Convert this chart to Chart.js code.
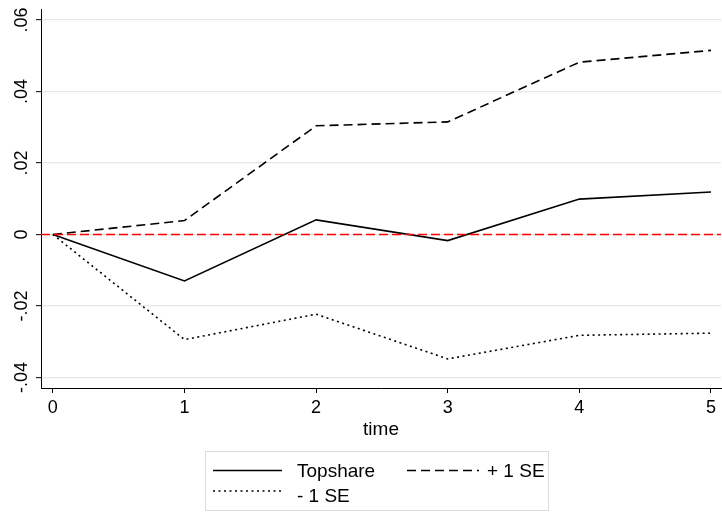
<!DOCTYPE html>
<html>
<head>
<meta charset="utf-8">
<script src="https://cdn.jsdelivr.net/npm/chart.js@4.4.1/dist/chart.umd.min.js"></script>
<style>
  html, body { margin: 0; padding: 0; background: #fff; }
  #wrap { width: 722px; height: 513px; }
</style>
</head>
<body>
<div id="wrap"><canvas id="chart" width="722" height="513"></canvas></div>
<script>
// values
const time = [0, 1, 2, 3, 4, 5];
const topshare = [0, -0.0130, 0.0041, -0.0017, 0.0099, 0.0119];
const plusSE = [0, 0.0039, 0.0304, 0.0315, 0.0482, 0.0515];
const minusSE = [0, -0.0294, -0.0223, -0.0348, -0.0282, -0.0276];
const xTicks = [0, 1, 2, 3, 4, 5];
const yTicks = [-0.04, -0.02, 0, 0.02, 0.04, 0.06];
const yTickLabels = ['-.04', '-.02', '0', '.02', '.04', '.06'];
const xRange = [-0.09, 5.076];
const yRange = [-0.04294, 0.06308];
const zeroLine = [0, 0];

const FONT = '"Liberation Sans", Arial, sans-serif';

const toPoints = (xs, ys) => xs.map((x, i) => ({ x, y: ys[i] }));

const legendItems = [
  { label: 'Topshare', dash: [], col: 0, row: 0 },
  { label: '+ 1 SE', dash: [9, 5], col: 1, row: 0 },
  { label: '- 1 SE', dash: [2, 3.5], col: 0, row: 1 }
];

const stataDecor = {
  id: 'stataDecor',
  afterDraw(chart) {
    const ctx = chart.ctx;
    const yScale = chart.scales.y;
    const area = chart.chartArea;

    // rotated y tick labels
    ctx.save();
    ctx.fillStyle = '#000';
    ctx.font = '18px ' + FONT;
    ctx.textAlign = 'center';
    ctx.textBaseline = 'alphabetic';
    yTicks.forEach((v, i) => {
      const py = yScale.getPixelForValue(v);
      ctx.save();
      ctx.translate(27, py);
      ctx.rotate(-Math.PI / 2);
      ctx.fillText(yTickLabels[i], 0, 0);
      ctx.restore();
    });

    // x axis title
    ctx.font = '19px ' + FONT;
    ctx.fillText('time', (area.left + area.right) / 2, 435);

    // legend box
    ctx.strokeStyle = '#dcdcdc';
    ctx.lineWidth = 1;
    ctx.strokeRect(205.5, 451.5, 343, 59);

    ctx.textAlign = 'left';
    const colX = [[213, 282, 297], [407, 479, 487]];
    const lineY = [470.5, 491];
    const textY = [476.7, 501.5];
    legendItems.forEach(item => {
      const [x1, x2, tx] = colX[item.col];
      ctx.strokeStyle = '#000';
      ctx.lineWidth = 1.6;
      ctx.setLineDash(item.dash);
      ctx.beginPath();
      ctx.moveTo(x1, lineY[item.row]);
      ctx.lineTo(x2, lineY[item.row]);
      ctx.stroke();
      ctx.setLineDash([]);
      ctx.fillText(item.label, tx, textY[item.row]);
    });
    ctx.restore();
  }
};

new Chart(document.getElementById('chart').getContext('2d'), {
  type: 'line',
  data: {
    datasets: [
      {
        label: 'zero',
        data: toPoints(xRange, zeroLine),
        borderColor: '#ff0000',
        borderWidth: 1.6,
        borderDash: [9, 4],
        pointRadius: 0
      },
      {
        label: 'Topshare',
        data: toPoints(time, topshare),
        borderColor: '#000',
        borderWidth: 1.6,
        pointRadius: 0
      },
      {
        label: '+ 1 SE',
        data: toPoints(time, plusSE),
        borderColor: '#000',
        borderWidth: 1.6,
        borderDash: [9, 5],
        pointRadius: 0
      },
      {
        label: '- 1 SE',
        data: toPoints(time, minusSE),
        borderColor: '#000',
        borderWidth: 1.6,
        borderDash: [2, 3.5],
        pointRadius: 0
      }
    ]
  },
  options: {
    responsive: false,
    animation: false,
    events: [],
    layout: { padding: { left: 0, right: 1, top: 9, bottom: 0 } },
    plugins: {
      legend: { display: false },
      tooltip: { enabled: false }
    },
    scales: {
      x: {
        type: 'linear',
        min: xRange[0],
        max: xRange[1],
        afterBuildTicks: scale => { scale.ticks = xTicks.map(v => ({ value: v })); },
        afterFit: scale => { scale.height = 125; },
        ticks: {
          color: '#000',
          font: { family: FONT, size: 18 },
          padding: 4,
          maxRotation: 0,
          callback: v => String(v)
        },
        grid: {
          color: 'rgba(0,0,0,0)',
          tickColor: '#000',
          tickLength: 5,
          tickWidth: 1
        },
        border: { display: true, color: '#000', width: 1 }
      },
      y: {
        min: yRange[0],
        max: yRange[1],
        afterBuildTicks: scale => { scale.ticks = yTicks.map(v => ({ value: v })); },
        afterFit: scale => { scale.width = 41; },
        ticks: { display: false },
        grid: {
          color: '#e6e6e6',
          lineWidth: 1.3,
          tickColor: '#000',
          tickLength: 5,
          tickWidth: 1
        },
        border: { display: true, color: '#000', width: 1 }
      }
    }
  },
  plugins: [stataDecor]
});
</script>
</body>
</html>
